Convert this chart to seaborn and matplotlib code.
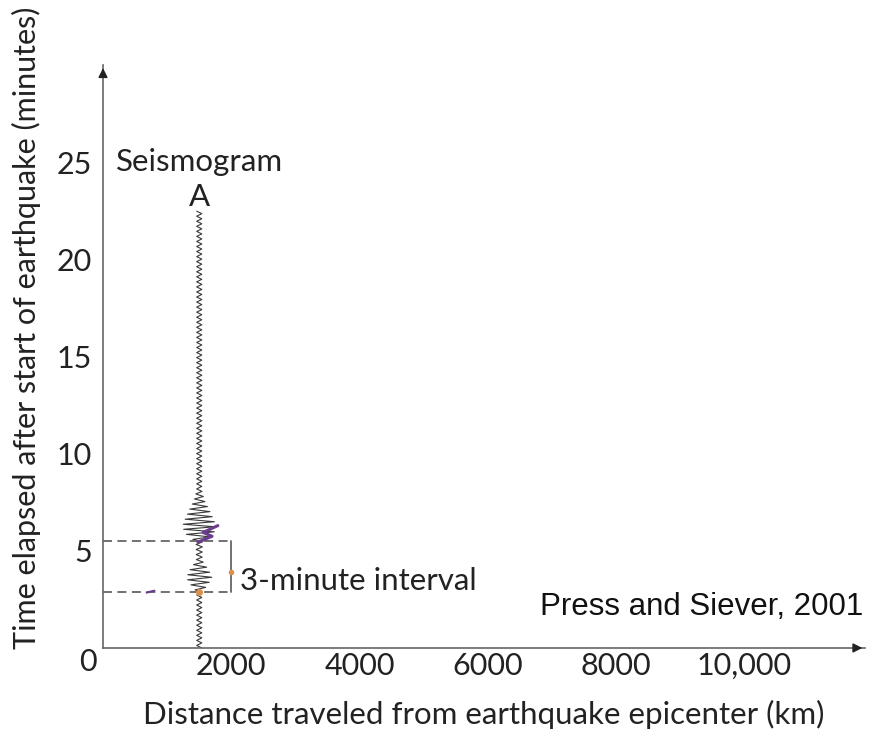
import numpy as np
import pandas as pd
import matplotlib
matplotlib.use("Agg")
import matplotlib.pyplot as plt
import seaborn as sns

# ---- data ----
station_distance = 1500          # km, seismogram A
trace_top = 22.5                 # minutes, top of recorded trace
p_arrival = 2.9                  # minutes
s_arrival = 5.5                  # minutes
bracket_x = 2000                 # km
env_times = [0.0, 2.9, 3.2, 3.6, 4.0, 4.5, 5.5, 5.7, 6.0, 6.4, 7.0, 7.6, 8.1, 22.5]
env_amps = [40, 40, 120, 200, 150, 45, 50, 160, 240, 250, 170, 80, 40, 40]   # km half-width
xtick_vals = [2000, 4000, 6000, 8000, 10000]
xtick_labels = ["2000", "4000", "6000", "8000", "10,000"]
ytick_vals = [5, 10, 15, 20, 25]
ytick_labels = ["5", "10", "15", "20", "25"]

sns.set_style("white")
plt.rcParams["font.family"] = ["Lato", "DejaVu Sans"]

fig = plt.figure(figsize=(8.73, 7.32), dpi=100)
ax = fig.add_axes([0.118, 0.1148, 0.873, 0.796])

# seismogram trace: zigzag within the read envelope
t = np.arange(0.0, trace_top, 0.13)
amp = np.interp(t, env_times, env_amps)
sign = np.where(np.arange(len(t)) % 2 == 0, 1, -1)
trace = pd.DataFrame({"x": station_distance + sign * amp, "t": t})
sns.lineplot(data=trace, x="x", y="t", sort=False, estimator=None, orient="y",
             color="#3a3a3a", lw=0.8, ax=ax)

# dashed arrival lines and bracket
grey = "#666666"
for yv in (p_arrival, s_arrival):
    ax.plot([0, bracket_x], [yv, yv], ls=(0, (5, 3)), color=grey, lw=1.3)
ax.plot([bracket_x, bracket_x], [p_arrival, s_arrival], color=grey, lw=1.3)

# coloured arrival markers
ax.plot([1480, 1700, 1560, 1790], [5.45, 5.75, 5.95, 6.3], color="#6a3d8f", lw=2.2)
ax.plot([680, 800], [2.85, 2.95], color="#6a3d8f", lw=1.5)
ax.plot([station_distance], [p_arrival], "o", color="#d9904a", ms=4)
ax.plot([bracket_x], [3.9], "o", color="#d9904a", ms=3)

ax.set_xlim(0, 11880)
ax.set_ylim(0, 30)

ax.set_xticks(range(1000, 12000, 1000))
ax.set_xticklabels([xtick_labels[xtick_vals.index(v)] if v in xtick_vals else ""
                    for v in range(1000, 12000, 1000)])
ax.set_yticks(ytick_vals)
ax.set_yticklabels(ytick_labels)
ax.tick_params(axis="both", direction="in", length=11, width=1, color=grey,
               labelsize=22, labelcolor="#222222")
ax.tick_params(axis="x", pad=3)
ax.tick_params(axis="y", pad=8)

for s in ("top", "right"):
    ax.spines[s].set_visible(False)
for s in ("left", "bottom"):
    ax.spines[s].set_color(grey)
    ax.spines[s].set_linewidth(1.2)

# axis arrows
ax.annotate("", xy=(1.0, 0), xytext=(0.985, 0), xycoords="axes fraction",
            arrowprops=dict(arrowstyle="-|>", color="#222222", lw=1, mutation_scale=14))
ax.annotate("", xy=(0, 1.0), xytext=(0, 0.985), xycoords="axes fraction",
            arrowprops=dict(arrowstyle="-|>", color="#222222", lw=1, mutation_scale=14))

ax.set_xlabel("Distance traveled from earthquake epicenter (km)", fontsize=22.5,
              color="#222222", labelpad=14)
ax.set_ylabel("Time elapsed after start of earthquake (minutes)", fontsize=22,
              color="#222222")
ax.yaxis.set_label_coords(-0.082, 0.55)

ax.annotate("0", xy=(0, 0), xytext=(-11, -10), textcoords="offset points",
            ha="center", va="center", fontsize=22, color="#222222")

ax.text(station_distance, 25, "Seismogram", ha="center", va="center",
        fontsize=22.5, color="#222222")
ax.text(station_distance, 23.2, "A", ha="center", va="center",
        fontsize=22.5, color="#222222")
ax.text(bracket_x + 130, 3.45, "3-minute interval", ha="left", va="center",
        fontsize=22.5, color="#222222")
ax.text(11850, 2.1, "Press and Siever, 2001", ha="right", va="center",
        fontsize=22.5, color="#111111", family=["Liberation Sans", "DejaVu Sans"])

fig.savefig("out.png", dpi=100)
